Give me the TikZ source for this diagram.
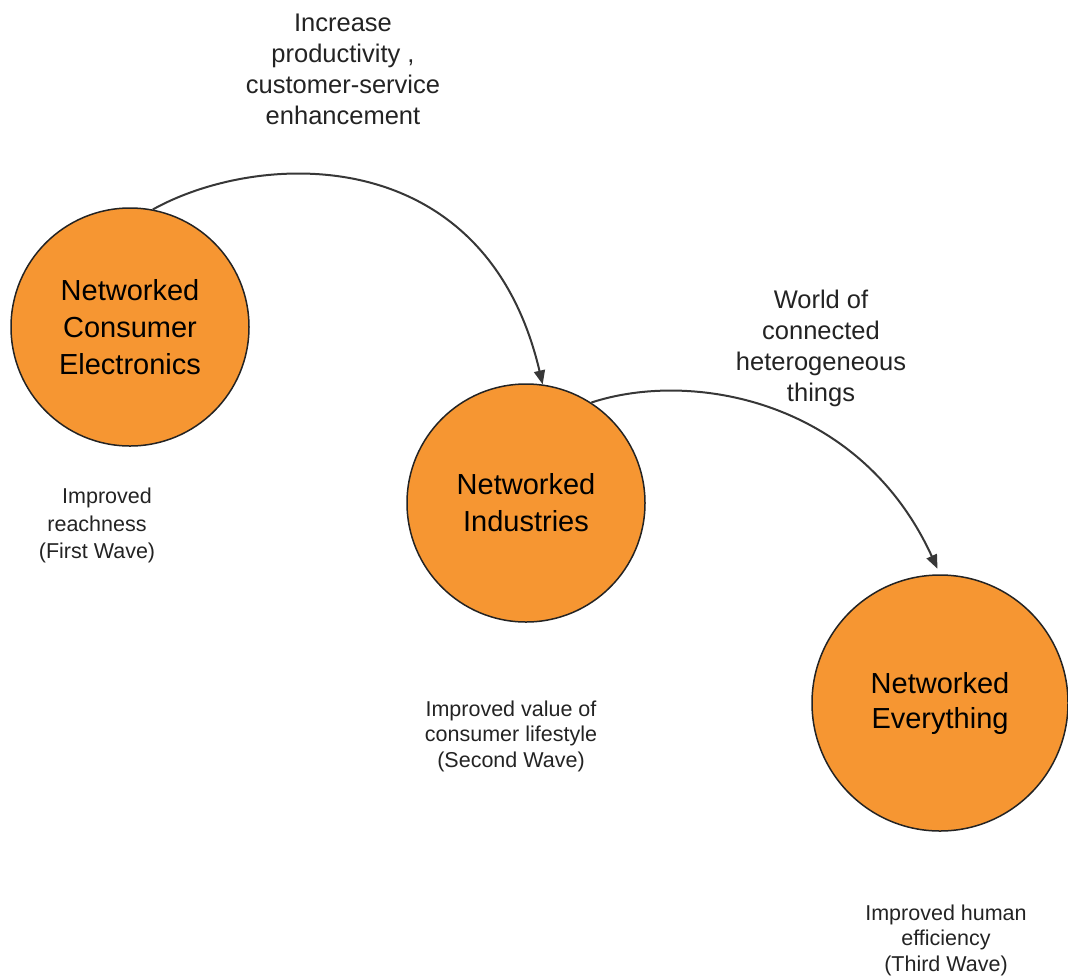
\documentclass[tikz,border=0pt]{standalone}
\usepackage{fontspec}
\setmainfont{Liberation Sans}
\usetikzlibrary{arrows.meta}
\definecolor{waveorange}{RGB}{246,150,50}
\definecolor{inkgray}{RGB}{35,35,35}
\definecolor{linegray}{RGB}{55,55,55}

\begin{document}
\begin{tikzpicture}[x=1pt,y=-1pt,
  wave/.style={circle, draw=inkgray, line width=1.5pt, fill=waveorange,
    inner sep=0pt, align=center, text=black,
    font=\fontsize{29}{37}\selectfont},
  conn/.style={draw=linegray, line width=2pt,
    -{Triangle[length=14pt,width=11pt]}},
  caption/.style={align=center, inner sep=0pt, anchor=north, text=inkgray,
    font=\fontsize{25.5}{31}\selectfont},
  note/.style={align=center, inner sep=0pt, anchor=north, text=inkgray,
    font=\fontsize{21.5}{25.6}\selectfont}]
\useasboundingbox (0,0) rectangle (1068,978);

% the three waves
\node[wave, minimum size=238pt] (c1) at (130,327) {Networked\\Consumer\\Electronics};
\node[wave, minimum size=238pt, font=\fontsize{29}{37}\selectfont] (c2) at (526,503) {Networked\\Industries};
\node[wave, minimum size=256pt, font=\fontsize{29}{35}\selectfont] (c3) at (940,703) {Networked\\Everything};

% transitions between waves
\draw[conn] (c1.79) .. controls +(108,-60) and +(-57,-243) .. (c2.82);
\draw[conn, shorten >=6pt] (c2.57) .. controls +(100,-33) and +(-80,-175) .. (c3.90);

% transition captions
\node[caption] (t1) at (343,13.4) {Increase\\productivity ,\\customer-service\\enhancement};
\node[caption] (t2) at (821,289.7) {World of\\connected\\heterogeneous\\things};

% wave outcomes
\node[note, font=\fontsize{21.5}{27.5}\selectfont] (l1) at (97,488) {\hspace*{20pt}Improved\\reachness\\(First Wave)};
\node[note] (l2) at (511,700.6) {Improved value of\\consumer lifestyle\\(Second Wave)};
\node[note] (l3) at (946,904.6) {Improved human\\efficiency\\(Third Wave)};
\end{tikzpicture}
\end{document}
